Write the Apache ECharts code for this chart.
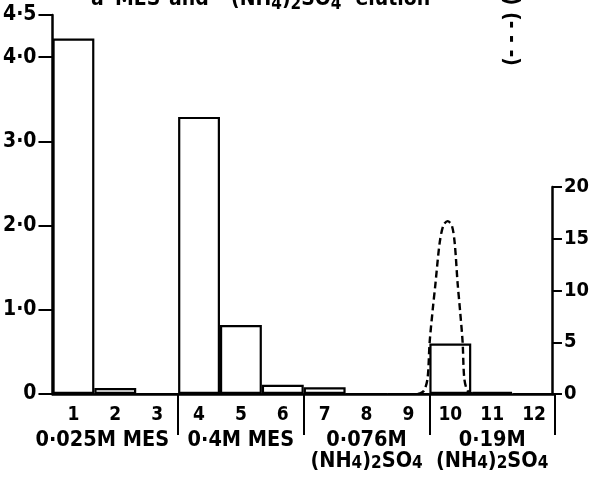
<!DOCTYPE html>
<html><head><meta charset="utf-8">
<script src="https://cdn.jsdelivr.net/npm/echarts@6/dist/echarts.min.js"></script>
<style>html,body{margin:0;padding:0;background:#fff}#c{width:592px;height:485px}</style>
</head><body><div id="c"></div>
<script>
// ---- data ----
const fractions = ['1','2','3','4','5','6','7','8','9','10','11','12'];
const absorbance = [4.22, 0.07, 0, 3.29, 0.82, 0.11, 0.08, 0, 0, 0.60, 0.025, 0];
const curveFraction = [8.79, 8.93, 9.02, 9.07, 9.14, 9.21, 9.31, 9.4, 9.5, 9.6, 9.67, 9.74, 9.8, 9.86, 9.9, 9.98, 10.12];
const curveValue    = [0,    0.3,  1.5,  5,    8,    10.7, 14.6, 16.3, 16.7, 16.3, 14.6, 10.7, 8,   5,    1.5,  0.3,  0];
const leftTicks = [0, 1, 2, 3, 4, 4.5];
const groupBoundaries = [3, 6, 9, 12];
const groupCenters = [1.5, 4.5, 7.5, 10.5];
const groupLabels = [
  '{a|0·025M MES}{g1|}',
  '{a|0·4M MES}',
  '{a|0·076M}\n{a|(NH}{s|4}{a|)}{s|2}{a|SO}{s|4}',
  '{a|0·19M}\n{a|(NH}{s|4}{a|)}{s|2}{a|SO}{s|4}'
];

const FONT = 'DejaVu Sans Condensed';
const W = 'bold';
const chart = echarts.init(document.getElementById('c'));
const curve = curveFraction.map((x, i) => [x, curveValue[i]]);

chart.setOption({
  backgroundColor: '#fff',
  animation: false,
  title: {
    text: '{w1|a}{w2|MES}{w3|and}{a|(NH}{s|4}{a|)}{s|2}{a|SO}{s|4}{sp|}{a|elution}',
    left: 91, top: -13, padding: 0,
    textStyle: {
      rich: {
        a: {fontFamily: FONT, fontWeight: W, fontSize: 21, color: '#000', lineHeight: 26},
        w1: {fontFamily: FONT, fontWeight: W, fontSize: 21, color: '#000', lineHeight: 26, width: 24},
        w2: {fontFamily: FONT, fontWeight: W, fontSize: 21, color: '#000', lineHeight: 26, width: 54},
        w3: {fontFamily: FONT, fontWeight: W, fontSize: 21, color: '#000', lineHeight: 26, width: 62},
        sp: {width: 14},
        s: {fontFamily: FONT, fontWeight: W, fontSize: 17, color: '#000', lineHeight: 10, verticalAlign: 'bottom'}
      }
    }
  },
  graphic: [{
    type: 'text', x: 510, y: 66, rotation: -Math.PI / 2,
    style: {text: 'Protein (mg) (- - -)', fontFamily: FONT, fontWeight: W, fontSize: 21,
            fill: '#000', align: 'right', verticalAlign: 'middle'}
  }],
  grid: [
    {left: 51, right: 37, top: 15, bottom: 91},
    {left: 51, right: 37, top: 187, bottom: 91}
  ],
  xAxis: [
    {
      type: 'category', gridIndex: 0, data: fractions, boundaryGap: true, position: 'bottom',
      axisLine: {lineStyle: {color: '#000', width: 2.5}},
      axisTick: {interval: 0, length: 11, lineStyle: {color: '#000', width: 2}},
      axisLabel: {interval: 0, margin: 12, color: '#000', fontFamily: FONT, fontWeight: W, fontSize: 19, lineHeight: 19},
      splitLine: {show: false}
    },
    {
      type: 'value', gridIndex: 0, min: 0, max: 12, position: 'bottom',
      axisLine: {show: false},
      axisTick: {show: true, customValues: groupBoundaries, length: 41, lineStyle: {color: '#000', width: 2}},
      axisLabel: {
        customValues: groupCenters, margin: 36,
        formatter: v => groupLabels[groupCenters.indexOf(v)],
        rich: {
          a: {fontFamily: FONT, fontWeight: W, fontSize: 21.5, color: '#000', lineHeight: 21},
          s: {fontFamily: FONT, fontWeight: W, fontSize: 17, color: '#000', lineHeight: 6, verticalAlign: 'bottom'},
          g1: {width: 26}
        }
      },
      splitLine: {show: false}
    },
    {
      type: 'value', gridIndex: 1, min: 0, max: 12, show: false
    }
  ],
  yAxis: [
    {
      type: 'value', gridIndex: 0, min: 0, max: 4.5, position: 'left',
      axisLine: {show: true, onZero: false, lineStyle: {color: '#000', width: 2.5}},
      axisTick: {show: true, customValues: leftTicks, length: 14, lineStyle: {color: '#000', width: 2}},
      axisLabel: {
        customValues: leftTicks, margin: 16, color: '#000', fontFamily: FONT, fontWeight: W, fontSize: 21,
        formatter: v => v === 0 ? '0' : v.toFixed(1).replace('.', '·')
      },
      splitLine: {show: false}
    },
    {
      type: 'value', gridIndex: 1, min: 0, max: 20, interval: 5, position: 'right',
      axisLine: {show: true, onZero: false, lineStyle: {color: '#000', width: 2.5}},
      axisTick: {show: true, length: 10, lineStyle: {color: '#000', width: 2}},
      axisLabel: {margin: 12, color: '#000', fontFamily: FONT, fontWeight: W, fontSize: 20},
      splitLine: {show: false}
    }
  ],
  series: [
    {
      type: 'bar', xAxisIndex: 0, yAxisIndex: 0, data: absorbance,
      barWidth: '100%', barGap: '0%',
      itemStyle: {color: 'rgba(255,255,255,0)', borderColor: '#000', borderWidth: 2.2}
    },
    {
      type: 'line', xAxisIndex: 2, yAxisIndex: 1, data: curve, smooth: 0.3,
      symbol: 'none',
      lineStyle: {color: '#000', width: 2.4, type: [7, 4]}
    }
  ]
});
</script>
</body></html>
